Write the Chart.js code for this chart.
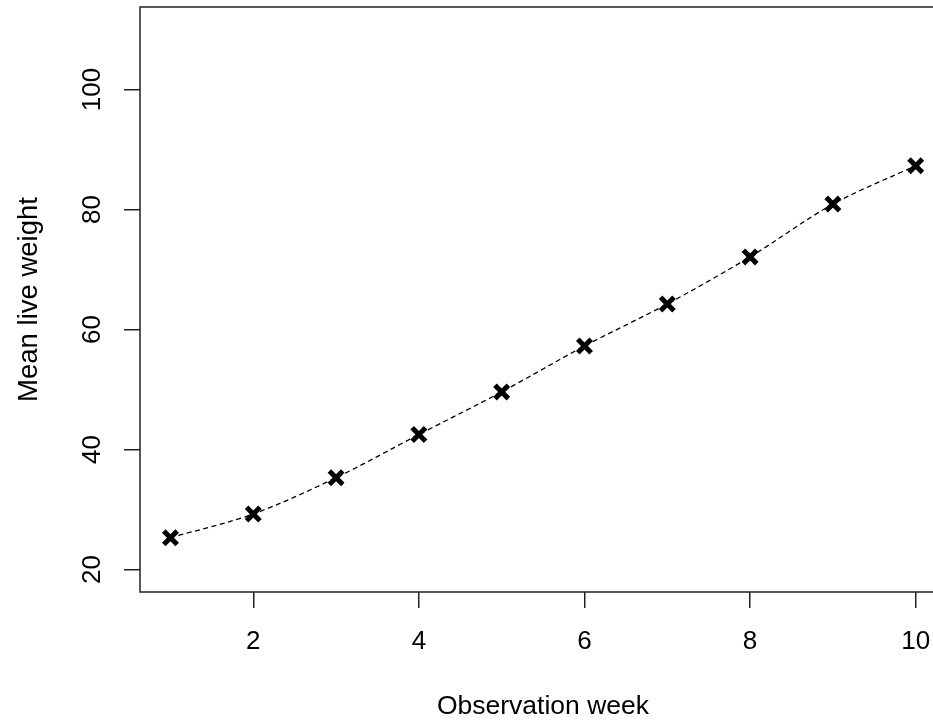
<!DOCTYPE html>
<html lang="en">
  <head>
    <meta charset="UTF-8" />
    <title>Mean live weight</title>
    <script src="https://cdn.jsdelivr.net/npm/chart.js"></script>
    <style>
      html,
      body {
        margin: 0;
        padding: 0;
        background: #ffffff;
        overflow: hidden;
      }
      canvas {
        display: block;
      }
    </style>
  </head>

  <body>
    <!-- o grafico original e cortado na direita, por isso o canvas passa de 933 -->
    <canvas id="myChart" width="946" height="721"></canvas>

    <script>
      // dados
      var semanas = [1, 2, 3, 4, 5, 6, 7, 8, 9, 10];
      var pesoMedio = [25.3, 29.25, 35.3, 42.5, 49.6, 57.25, 64.25, 72.1, 80.9, 87.3];

      var ticksX = [2, 4, 6, 8, 10];
      var ticksY = [20, 40, 60, 80, 100];

      var fonte = "'Liberation Sans', Arial, sans-serif";

      // moldura em volta da area do grafico (estilo R)
      const moldura = {
        id: "moldura",
        afterDraw(chart) {
          const ctx = chart.ctx;
          const a = chart.chartArea;
          ctx.save();
          ctx.strokeStyle = "#222222";
          ctx.lineWidth = 1.5;
          ctx.strokeRect(a.left, a.top, a.right - a.left, a.bottom - a.top);
          ctx.restore();
        },
      };

      // sem folga extra para os rotulos nas pontas dos eixos
      function semFolga(s) {
        s.paddingTop = 0;
        s.paddingBottom = 0;
        s.paddingLeft = 0;
        s.paddingRight = 0;
      }

      let pontos = [];
      for (i = 0; i < semanas.length; i++) {
        pontos.push({ x: semanas[i], y: pesoMedio[i] });
      }

      const dados = {
        datasets: [
          {
            label: "Mean live weight",
            data: pontos,
            borderColor: "#000000",
            borderWidth: 1.3,
            borderDash: [5, 3.5],
            tension: 0.3,
            pointStyle: "crossRot",
            pointRadius: 9.5,
            pointBorderWidth: 5,
            pointBorderColor: "#000000",
            pointBackgroundColor: "#000000",
            fill: false,
          },
        ],
      };

      const config = {
        type: "line",
        data: dados,
        plugins: [moldura],
        options: {
          responsive: false,
          devicePixelRatio: 1,
          animation: false,
          layout: {
            autoPadding: false,
            padding: { left: 0, right: 0, top: 7, bottom: 0 },
          },
          plugins: {
            legend: { display: false },
            tooltip: { enabled: false },
          },
          scales: {
            x: {
              type: "linear",
              min: 0.632,
              max: 10.366,
              afterBuildTicks: function (s) {
                s.ticks = ticksX.map(function (v) {
                  return { value: v };
                });
              },
              afterFit: function (s) {
                s.height = 129;
                semFolga(s);
              },
              border: { display: false },
              grid: {
                drawOnChartArea: false,
                drawTicks: true,
                tickLength: 16,
                color: "#222222",
                lineWidth: 1.5,
              },
              ticks: {
                autoSkip: false,
                maxRotation: 0,
                padding: 18,
                color: "#000000",
                font: { family: fonte, size: 26 },
              },
              title: {
                display: true,
                text: "Observation week",
                color: "#000000",
                font: { family: fonte, size: 26.5, lineHeight: 1 },
                padding: { top: 0, bottom: 1 },
              },
            },
            y: {
              type: "linear",
              min: 16.25,
              max: 113.75,
              afterBuildTicks: function (s) {
                s.ticks = ticksY.map(function (v) {
                  return { value: v };
                });
              },
              afterFit: function (s) {
                s.width = 140;
                semFolga(s);
              },
              border: { display: false },
              grid: {
                drawOnChartArea: false,
                drawTicks: true,
                tickLength: 16,
                color: "#222222",
                lineWidth: 1.5,
              },
              ticks: {
                autoSkip: false,
                minRotation: 90,
                maxRotation: 90,
                crossAlign: "center",
                padding: 9,
                color: "#000000",
                font: { family: fonte, size: 26 },
              },
              title: {
                display: true,
                text: "Mean live weight",
                color: "#000000",
                font: { family: fonte, size: 27.5, lineHeight: 1 },
                padding: { top: 16, bottom: 0 },
              },
            },
          },
        },
      };

      var myChart = new Chart(document.getElementById("myChart"), config);
    </script>
  </body>
</html>
